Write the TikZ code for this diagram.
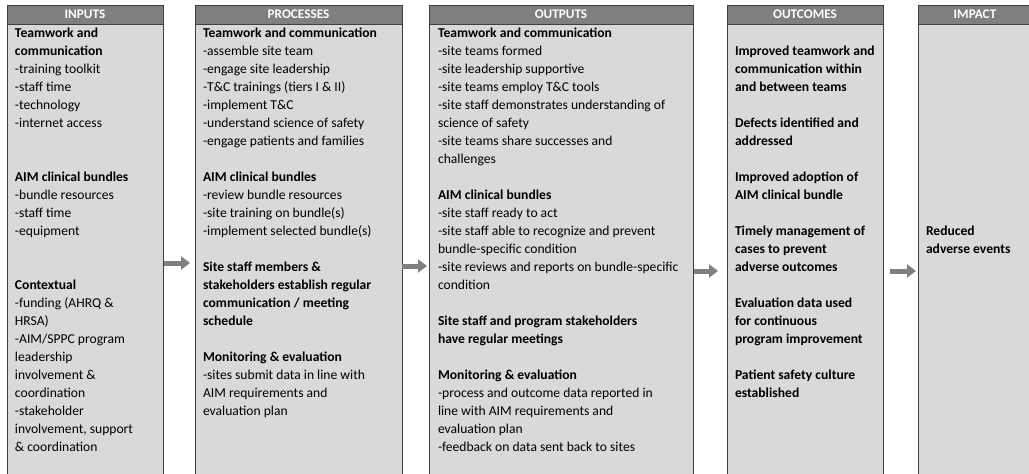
\documentclass[tikz,border=0pt]{standalone}
\usepackage{fontspec}
\setmainfont{Carlito}
\usetikzlibrary{arrows.meta}
\definecolor{headgray}{HTML}{7F7F7F}
\definecolor{bodygray}{HTML}{D9D9D9}
\definecolor{edgegray}{HTML}{404040}
\definecolor{arrowgray}{HTML}{808080}
\begin{document}
\begin{tikzpicture}[x=1pt,y=-1pt,
  colhead/.style={draw=edgegray, line width=0.9pt, fill=headgray, anchor=north west,
    inner sep=0pt, outer sep=0pt, minimum height=19pt, text=white,
    font=\fontsize{13.2}{15}\selectfont\bfseries},
  colbody/.style={draw=edgegray, line width=0.9pt, fill=bodygray, anchor=north west,
    inner sep=0pt, outer sep=0pt, minimum height=470pt},
  coltext/.style={anchor=north west, inner sep=0pt, outer sep=0pt, align=left,
    font=\fontsize{13.6}{18}\selectfont},
  flow/.style={draw=arrowgray, line width=5pt, -{Triangle[length=9pt,width=13pt]}}]
\useasboundingbox (0,0) rectangle (1029,474);
\clip (0,0) rectangle (1029,474);

% column bodies
\node[colbody, minimum width=156pt] (inputs)    at (7,24)   {};
\node[colbody, minimum width=207pt] (processes) at (195,24) {};
\node[colbody, minimum width=264pt] (outputs)   at (429,24) {};
\node[colbody, minimum width=156pt] (outcomes)  at (727,24) {};
\node[colbody, minimum width=114pt] (impact)    at (918,24) {};

% column headers
\node[colhead, minimum width=156pt] (hinputs)    at (7,5)   {INPUTS};
\node[colhead, minimum width=207pt] (hprocesses) at (195,5) {PROCESSES};
\node[colhead, minimum width=264pt] (houtputs)   at (429,5) {OUTPUTS};
\node[colhead, minimum width=156pt] (houtcomes)  at (727,5) {OUTCOMES};
\node[colhead, minimum width=114pt] (himpact)    at (918,5) {IMPACT};

% column contents
\node[coltext] (tinputs) at (15,25.1) {\strut\textbf{Teamwork and}\\
\textbf{communication}\\
-training toolkit\\
-staff time\\
-technology\\
-internet access\\
\mbox{}\\
\mbox{}\\
\textbf{AIM clinical bundles}\\
-bundle resources\\
-staff time\\
-equipment\\
\mbox{}\\
\mbox{}\\
\textbf{Contextual}\\
-funding (AHRQ \&\\
HRSA)\\
-AIM/SPPC program\\
leadership\\
involvement \&\\
coordination\\
-stakeholder\\
involvement, support\\
\& coordination};

\node[coltext] (tprocesses) at (203,25.1) {\strut\textbf{Teamwork and communication}\\
-assemble site team\\
-engage site leadership\\
-T\&C trainings (tiers I \& II)\\
-implement T\&C\\
-understand science of safety\\
-engage patients and families\\
\mbox{}\\
\textbf{AIM clinical bundles}\\
-review bundle resources\\
-site training on bundle(s)\\
-implement selected bundle(s)\\
\mbox{}\\
\textbf{Site staff members \&}\\
\textbf{stakeholders establish regular}\\
\textbf{communication / meeting}\\
\textbf{schedule}\\
\mbox{}\\
\textbf{Monitoring \& evaluation}\\
-sites submit data in line with\\
AIM requirements and\\
evaluation plan};

\node[coltext] (toutputs) at (438,25.1) {\strut\textbf{Teamwork and communication}\\
-site teams formed\\
-site leadership supportive\\
-site teams employ T\&C tools\\
-site staff demonstrates understanding of\\
science of safety\\
-site teams share successes and\\
challenges\\
\mbox{}\\
\textbf{AIM clinical bundles}\\
-site staff ready to act\\
-site staff able to recognize and prevent\\
bundle-specific condition\\
-site reviews and reports on bundle-specific\\
condition\\
\mbox{}\\
\textbf{Site staff and program stakeholders}\\
\textbf{have regular meetings}\\
\mbox{}\\
\textbf{Monitoring \& evaluation}\\
-process and outcome data reported in\\
line with AIM requirements and\\
evaluation plan\\
-feedback on data sent back to sites};

\node[coltext, font=\fontsize{13.6}{18}\selectfont\bfseries] (toutcomes) at (735,43.1) {\strut Improved teamwork and\\
communication within\\
and between teams\\
\mbox{}\\
Defects identified and\\
addressed\\
\mbox{}\\
Improved adoption of\\
AIM clinical bundle\\
\mbox{}\\
Timely management of\\
cases to prevent\\
adverse outcomes\\
\mbox{}\\
Evaluation data used\\
for continuous\\
program improvement\\
\mbox{}\\
Patient safety culture\\
established};

\node[coltext, font=\fontsize{13.6}{18}\selectfont\bfseries] (timpact) at (926,223.1) {\strut Reduced\\
adverse events};

% flow arrows between the columns
\coordinate (f1s) at (164,263); \coordinate (f1e) at (190,263);
\coordinate (f2s) at (402,266); \coordinate (f2e) at (427,266);
\coordinate (f3s) at (694,271); \coordinate (f3e) at (718,271);
\coordinate (f4s) at (890,271); \coordinate (f4e) at (916,271);
\draw[flow] (f1s) -- (f1e);
\draw[flow] (f2s) -- (f2e);
\draw[flow] (f3s) -- (f3e);
\draw[flow] (f4s) -- (f4e);
\end{tikzpicture}
\end{document}
